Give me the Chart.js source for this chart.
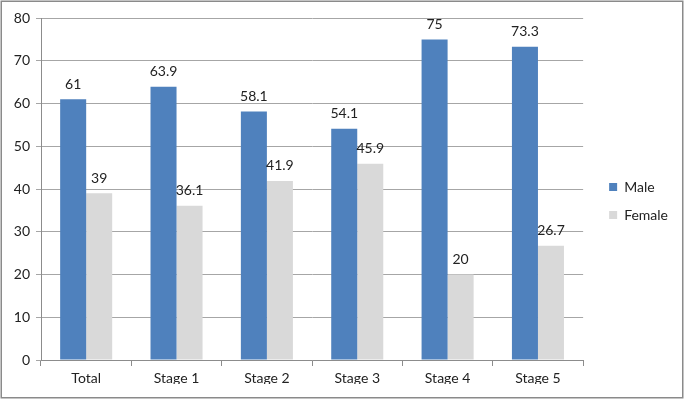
<!DOCTYPE html>
<html><head><meta charset="utf-8">
<script src="https://cdn.jsdelivr.net/npm/chart.js@4/dist/chart.umd.min.js"></script>
<style>html,body{margin:0;padding:0;background:#fff;}#wrap{width:685px;height:400px;position:relative;}</style>
</head><body><div id="wrap"><canvas id="c" width="685" height="400"></canvas></div>
<script>
const categories = ["Total","Stage 1","Stage 2","Stage 3","Stage 4","Stage 5"];
const maleValues = [61,63.9,58.1,54.1,75,73.3];
const femaleValues = [39,36.1,41.9,45.9,20,26.7];
const yTicks = [0,10,20,30,40,50,60,70,80];

const FONT = "Lato, 'Open Sans', sans-serif";

const valueLabels = {
  id:'valueLabels',
  afterDatasetsDraw(chart){
    const ctx = chart.ctx;
    ctx.save();
    ctx.font = "14px " + FONT;
    ctx.fillStyle = "#222";
    ctx.textAlign = "center";
    ctx.textBaseline = "bottom";
    chart.data.datasets.forEach((ds,i)=>{
      chart.getDatasetMeta(i).data.forEach((bar,j)=>{
        ctx.fillText(String(ds.data[j]), bar.x, bar.y - 8);
      });
    });
    ctx.restore();
  }
};
const frame = {
  id:'frame',
  afterDraw(chart){
    const ctx = chart.ctx;
    ctx.save();
    ctx.strokeStyle = "#8a8a8a";
    ctx.lineWidth = 1.5;
    ctx.strokeRect(1.25,1.25,chart.width-3.5,chart.height-3.5);
    ctx.restore();
  }
};

new Chart(document.getElementById('c'),{
  type:'bar',
  data:{
    labels:categories,
    datasets:[
      {label:'Male',data:maleValues,backgroundColor:'#4F81BD',categoryPercentage:0.576,barPercentage:1},
      {label:'Female',data:femaleValues,backgroundColor:'#D9D9D9',categoryPercentage:0.576,barPercentage:1}
    ]
  },
  options:{
    responsive:false,
    animation:false,
    layout:{padding:{top:18,left:10,right:7,bottom:16}},
    plugins:{
      legend:{
        position:'right',
        labels:{font:{family:FONT,size:14},color:'#222',boxWidth:8,boxHeight:8,padding:14,useBorderRadius:false}
      },
      tooltip:{enabled:false}
    },
    scales:{
      y:{
        min:0,max:80,
        afterBuildTicks(s){ s.ticks = yTicks.map(v=>({value:v})); },
        ticks:{font:{family:FONT,size:14},color:'#222',padding:6},
        grid:{color:'#a6a6a6',tickLength:5,lineWidth:1},
        border:{color:'#8c8c8c'},
        afterFit(s){ s.width = 31; }
      },
      gap:{
        type:'linear',position:'right',display:true,
        ticks:{display:false},
        grid:{display:false},
        border:{display:false},
        afterFit(s){ s.width = 12; }
      },
      x:{
        offset:true,
        ticks:{font:{family:FONT,size:14},color:'#222',padding:4},
        grid:{offset:true,drawOnChartArea:false,tickLength:6,color:'#8c8c8c'},
        border:{color:'#8c8c8c'},
        afterFit(s){ s.height = 24; }
      }
    }
  },
  plugins:[valueLabels,frame]
});
</script>
</body></html>
